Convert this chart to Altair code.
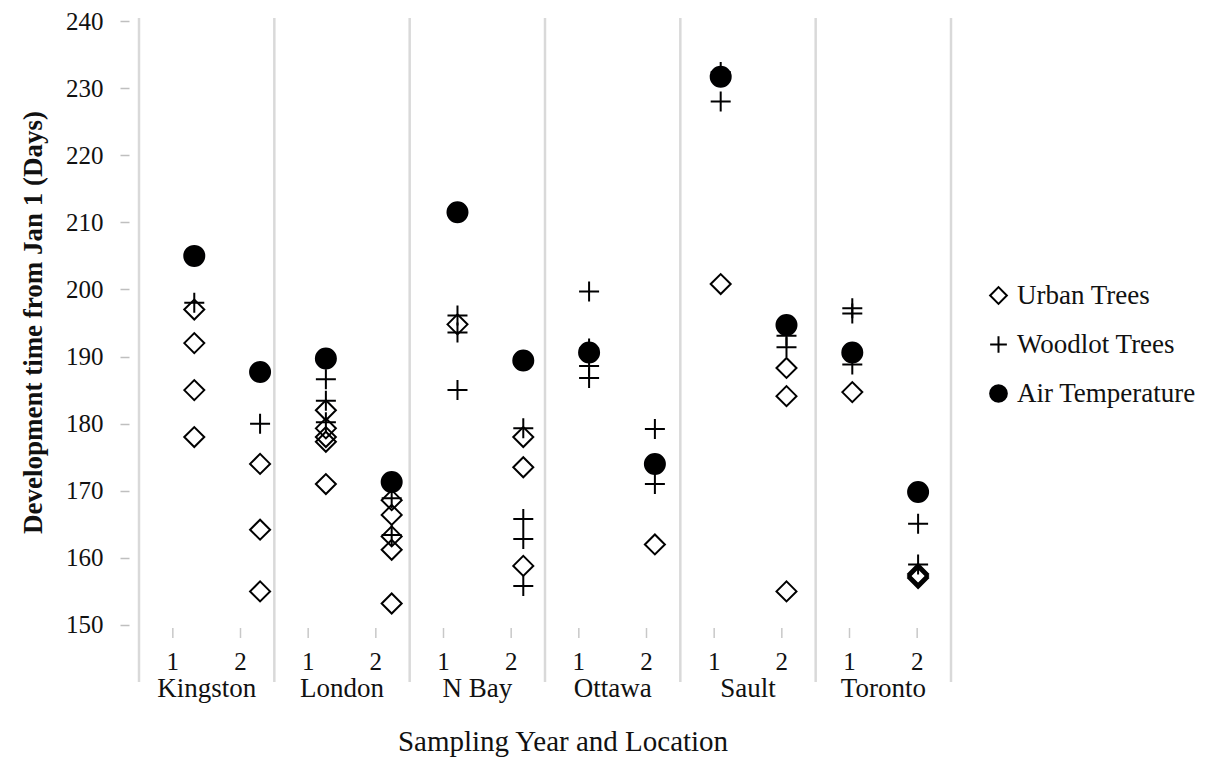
import altair as alt
import pandas as pd

# ---------------- data ----------------
locations = ["Kingston", "London", "N Bay", "Ottawa", "Sault", "Toronto"]
years = ["1", "2"]
series_names = ["Urban Trees", "Woodlot Trees", "Air Temperature"]

# one list per (location, year) slot, in order Kingston-1, Kingston-2, London-1, ...
urban_trees = [
    [197, 192, 185, 178],
    [174, 164.2, 155],
    [182, 179.3, 178, 177.3, 171],
    [168.6, 166.4, 163.2, 161.2, 153.2],
    [194.8],
    [178, 173.5, 158.8],
    [],
    [162],
    [200.8],
    [188.3, 184.1, 155],
    [184.7],
    [157.6, 157.3, 157],
]
woodlot_trees = [
    [198],
    [180],
    [186.6, 183.4, 180.2],
    [168.9, 163.4],
    [196.1, 193.6, 185],
    [179.3, 165.8, 162.8, 155.8],
    [199.7, 191.2, 188.6, 186.8],
    [179.2, 171],
    [232.4, 228],
    [193.1, 191.4],
    [197.2, 196.4, 188.8],
    [165.1, 159],
]
air_temperature = [205, 187.7, 189.7, 171.3, 211.5, 189.4, 190.6, 174, 231.7, 194.7, 190.6, 169.8]
y_ticks = [150, 160, 170, 180, 190, 200, 210, 220, 230, 240]

x_title = "Sampling Year and Location"
y_title = "Development time from Jan 1 (Days)"

# ---------------- tables ----------------
slots = [(loc, yr) for loc in locations for yr in years]
rows = []
for name, values in (("Urban Trees", urban_trees), ("Woodlot Trees", woodlot_trees)):
    for i, vals in enumerate(values):
        for v in vals:
            rows.append({"slot": i, "location": slots[i][0], "year": slots[i][1],
                         "series": name, "days": v})
for i, v in enumerate(air_temperature):
    rows.append({"slot": i, "location": slots[i][0], "year": slots[i][1],
                 "series": "Air Temperature", "days": v})
points = pd.DataFrame(rows)

slot_df = pd.DataFrame({"pos": [i + 0.5 for i in range(len(slots))],
                        "label": [yr for _, yr in slots]})
group_df = pd.DataFrame({"pos": [2 * g + 1 for g in range(len(locations))],
                         "label": locations})
sep_df = pd.DataFrame({"edge": [2 * g for g in range(len(locations) + 1)]})
title_df = pd.DataFrame({"pos": [len(slots) / 2], "label": [x_title]})

FONT = "Liberation Serif"
TXT = "#111111"
W, H = 812, 664

xs = alt.Scale(domain=[0, len(slots)], nice=False, zero=False)

separators = alt.Chart(sep_df).mark_rule(color="#d9d9d9", strokeWidth=2.5).encode(
    x=alt.X("edge:Q", scale=xs, axis=None),
    y=alt.value(0), y2=alt.value(H),
)

xticks = alt.Chart(slot_df).mark_rule(color="#c8c8c8", strokeWidth=1.5).encode(
    x=alt.X("pos:Q", scale=xs, axis=None),
    y=alt.value(610), y2=alt.value(620),
)

xlabels = alt.Chart(slot_df).mark_text(font=FONT, fontSize=25, color=TXT,
                                       baseline="alphabetic").encode(
    x=alt.X("pos:Q", scale=xs, axis=None),
    y=alt.value(652),
    text="label:N",
)

glabels = alt.Chart(group_df).mark_text(font=FONT, fontSize=27, color=TXT,
                                        baseline="alphabetic").encode(
    x=alt.X("pos:Q", scale=xs, axis=None),
    y=alt.value(679),
    text="label:N",
)

xtitle = alt.Chart(title_df).mark_text(font=FONT, fontSize=29, color=TXT,
                                       baseline="alphabetic", dx=18).encode(
    x=alt.X("pos:Q", scale=xs, axis=None),
    y=alt.value(733),
    text="label:N",
)

legend = alt.Legend(title=None, orient="none", legendX=846, legendY=264,
                    labelFont=FONT, labelFontSize=27, labelColor=TXT, labelLimit=400,
                    symbolStrokeWidth=2, symbolSize=280, labelOffset=5,
                    rowPadding=21, padding=0)

pts = alt.Chart(points).mark_point(filled=False, strokeWidth=2,
                                   size=400, opacity=1).encode(
    x=alt.X("slot:Q", scale=alt.Scale(domain=[-0.84, 11.5], nice=False, zero=False), axis=None),
    y=alt.Y("days:Q",
            scale=alt.Scale(domain=[141.5, 240.45], nice=False, zero=False),
            axis=alt.Axis(values=y_ticks, domain=False, grid=False, offset=10,
                          tickSize=9, tickColor="#bfbfbf", tickWidth=1.5,
                          labelFont=FONT, labelFontSize=25, labelColor=TXT,
                          labelPadding=17,
                          title=y_title, titleFont=FONT, titleFontSize=27,
                          titleFontWeight="bold", titleColor=TXT,
                          titlePadding=18, titleY=304)),
    shape=alt.Shape("series:N",
                    scale=alt.Scale(domain=series_names,
                                    range=["diamond", "M-1,0H1M0,-1V1", "circle"]),
                    legend=legend),
    fill=alt.Fill("series:N",
                  scale=alt.Scale(domain=series_names,
                                  range=["transparent", "transparent", "#000000"]),
                  legend=legend),
    stroke=alt.Stroke("series:N",
                      scale=alt.Scale(domain=series_names,
                                      range=["#000000", "#000001", "#000002"]),
                      legend=legend),
)

chart = alt.layer(separators, xticks, xlabels, glabels, xtitle, pts).resolve_scale(
    x="independent"
).properties(
    width=W, height=H,
    padding={"left": 131, "top": 10, "right": 255, "bottom": 77},
    autosize=alt.AutoSizeParams(type="none"),
    background="white",
).configure(font=FONT).configure_view(stroke=None)

chart.save("out.html", embed_options={"renderer": "svg", "actions": False})
